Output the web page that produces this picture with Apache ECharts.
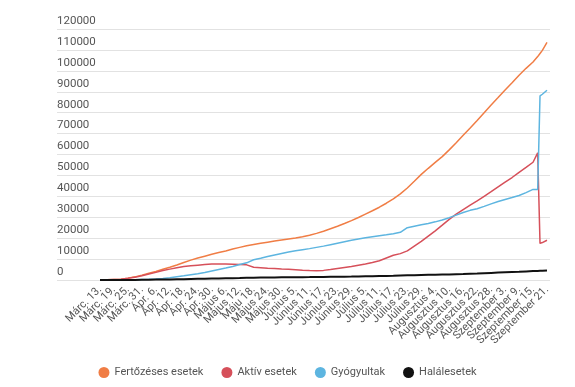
<!DOCTYPE html>
<html>
<head>
<meta charset="utf-8">
<script src="https://cdn.jsdelivr.net/npm/echarts@6/dist/echarts.min.js"></script>
<style>html,body{margin:0;padding:0;background:#fff}#c{width:575px;height:387px}</style>
</head>
<body>
<div id="c"></div>
<script>
var tickLabels = ["Márc. 13.","Márc. 19.","Márc. 25.","Márc. 31.","Ápr. 6.","Ápr. 12.","Ápr. 18.","Ápr. 24.","Ápr. 30.","Május 6.","Május 12.","Máju 18.","Május 24.","Május 30.","Június 5.","Június 11.","Június 17.","Június 23.","Június 29.","Július 5.","Július 11.","Július 17.","Július 23.","Július 29.","Augusztus 4.","Augusztus 10.","Augusztus 16.","Augusztus 22.","Augusztus 28.","Szeptember 3.","Szeptember 9.","Szeptember 15.","Szeptember 21."];
var seriesNames = ["Fertőzéses esetek","Aktív esetek","Gyógyultak","Halálesetek"];
var days = [0,3,6,9,12,15,18,21,24,27,30,33,36,39,42,45,48,51,54,57,60,63,66,69,72,75,78,81,84,87,90,93,96,99,102,105,108,111,114,117,120,123,126,129,132,135,138,141,144,147,150,153,156,159,162,165,168,171,174,177,180,183,186,188,189,190,192];
var infected = [100,150,250,350,900,1500,2300,3200,4100,5100,6100,7200,8400,9500,10500,11400,12300,13100,13900,14800,15600,16400,17000,17600,18100,18600,19100,19600,20100,20700,21400,22300,23300,24500,25700,27000,28400,29900,31500,33100,34800,36700,38800,41200,44000,47200,50500,53400,56200,59000,62200,65600,69200,72700,76300,80000,83700,87200,90800,94300,97900,101200,104200,106800,108300,109800,113600];
var active = [90,140,230,320,800,1350,2050,2900,3650,4500,5200,5900,6400,6800,7100,7400,7700,7650,7600,7500,7400,7250,6100,5900,5650,5450,5250,5100,4900,4650,4500,4450,4600,5000,5500,6000,6500,7100,7700,8400,9200,10500,11800,12600,13900,16200,18500,21000,23500,26200,29000,31500,33700,35800,37800,40000,42200,44500,46800,49000,51500,53800,56300,60800,17500,17900,19000];
var recovered = [0,10,20,30,90,150,220,300,450,700,1100,1600,2000,2500,3000,3600,4300,5000,5700,6500,7400,8200,9700,10400,11200,12000,12700,13400,14000,14500,15000,15600,16200,16900,17600,18300,19000,19600,20200,20700,21200,21600,22100,22800,25000,25700,26400,27000,27800,28700,29800,31000,32300,33300,34100,35200,36400,37500,38500,39400,40400,41800,43300,43300,88000,88800,90700];
var deaths = [0,0,0,5,10,30,70,120,180,230,280,350,410,480,550,620,690,760,820,880,940,1020,1100,1150,1200,1230,1260,1290,1310,1350,1380,1420,1460,1500,1530,1580,1630,1700,1770,1830,1900,1970,2050,2150,2250,2330,2400,2460,2520,2580,2630,2740,2850,2970,3100,3250,3400,3550,3700,3820,3950,4100,4250,4350,4400,4450,4600];

function pairs(vals){ return days.map(function(d,i){ return [d, vals[i]]; }); }

var colors = ['#f07d45','#d6505a','#5db5e0','#111111'];
var chart = echarts.init(document.getElementById('c'), null, {renderer:'canvas'});
var font = 'Roboto, "Noto Sans", sans-serif';
chart.setOption({
  animation: false,
  backgroundColor: '#ffffff',
  textStyle: {fontFamily: font},
  legend: {
    bottom: 4, left: 'center',
    icon: 'circle', itemWidth: 11, itemHeight: 11, itemGap: 18,
    textStyle: {color: '#555', fontSize: 11, fontFamily: font},
    data: seriesNames
  },
  grid: [
    {left: 100, right: 28, top: 29, bottom: 107},
    {left: 57, right: 25, top: 29, bottom: 107}
  ],
  xAxis: [
    {type: 'value', gridIndex: 0, min: 0, max: 192, show: false},
    {type: 'value', gridIndex: 1, min: 0, max: 1, show: false},
    {type: 'category', gridIndex: 0, data: tickLabels, boundaryGap: false, position: 'bottom',
     axisLine: {show: false}, axisTick: {show: false}, splitLine: {show: false},
     axisLabel: {interval: 0, rotate: 45, margin: 8, fontSize: 11, color: '#555', fontFamily: font}}
  ],
  yAxis: [
    {type: 'value', gridIndex: 0, min: 0, max: 120000, interval: 10000,
     axisLine: {show: false}, axisTick: {show: false}, axisLabel: {show: false}, splitLine: {show: false}},
    {type: 'value', gridIndex: 1, min: 0, max: 120000, interval: 10000,
     axisLine: {show: false}, axisTick: {show: false},
     splitLine: {show: true, lineStyle: {color: '#e2e2e2', width: 1}},
     axisLabel: {inside: true, margin: 0, verticalAlign: 'bottom', fontSize: 11.5, color: '#555', fontFamily: font, padding: [0,0,2,0],
       formatter: function(v){ return String(v); }}}
  ],
  series: [
    {name: seriesNames[0], type: 'line', xAxisIndex: 0, yAxisIndex: 0, data: pairs(infected), showSymbol: false, symbol: 'circle', itemStyle: {color: colors[0]}, lineStyle: {color: colors[0], width: 1.5}},
    {name: seriesNames[1], type: 'line', xAxisIndex: 0, yAxisIndex: 0, data: pairs(active), showSymbol: false, symbol: 'circle', itemStyle: {color: colors[1]}, lineStyle: {color: colors[1], width: 1.5}},
    {name: seriesNames[2], type: 'line', xAxisIndex: 0, yAxisIndex: 0, data: pairs(recovered), showSymbol: false, symbol: 'circle', itemStyle: {color: colors[2]}, lineStyle: {color: colors[2], width: 1.5}},
    {name: seriesNames[3], type: 'line', xAxisIndex: 0, yAxisIndex: 0, data: pairs(deaths), showSymbol: false, symbol: 'circle', itemStyle: {color: colors[3]}, lineStyle: {color: colors[3], width: 2}}
  ]
});
</script>
</body>
</html>
